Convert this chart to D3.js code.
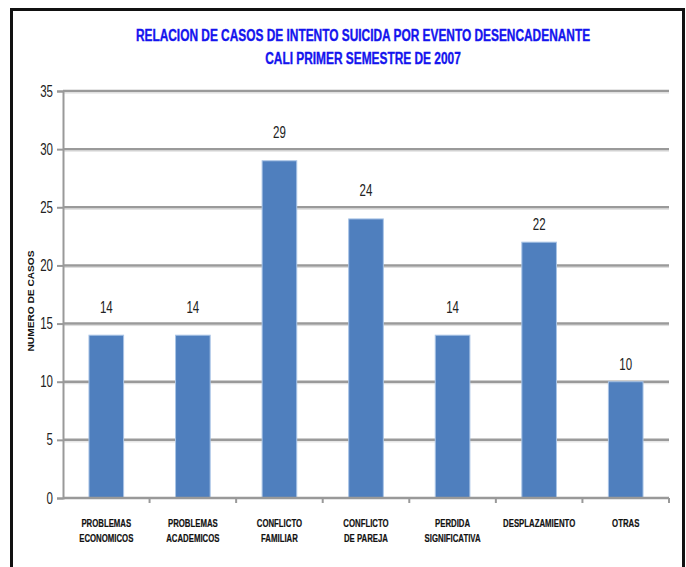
<!DOCTYPE html>
<html>
<head>
<meta charset="utf-8">
<script src="https://cdn.jsdelivr.net/npm/d3@7"></script>
<style>
  html, body { margin: 0; padding: 0; background: #fff; }
  svg { display: block; }
  text { font-family: "Liberation Sans", Arial, sans-serif; }
</style>
</head>
<body>
<svg id="chart" width="686" height="567"></svg>
<script>
const titleLines = ["RELACION DE CASOS DE INTENTO SUICIDA POR EVENTO DESENCADENANTE", "CALI PRIMER SEMESTRE DE 2007"];
const yAxisTitle = "NUMERO DE CASOS";
const categories = [
  ["PROBLEMAS", "ECONOMICOS"],
  ["PROBLEMAS", "ACADEMICOS"],
  ["CONFLICTO", "FAMILIAR"],
  ["CONFLICTO", "DE PAREJA"],
  ["PERDIDA", "SIGNIFICATIVA"],
  ["DESPLAZAMIENTO"],
  ["OTRAS"]
];
const values = [14, 14, 29, 24, 14, 22, 10];
const yTicks = [0, 5, 10, 15, 20, 25, 30, 35];

const svg = d3.select("#chart");

// narrow text helper: horizontally condensed glyphs
function narrowText(parent, tx, ty, str, opts) {
  const g = parent.append("g").attr("transform", `translate(${tx},${ty})`);
  return g.append("text")
    .attr("transform", `scale(${opts.sx || 0.8},1)`)
    .attr("text-anchor", opts.anchor || "middle")
    .attr("font-size", opts.size)
    .attr("font-weight", opts.weight || "normal")
    .attr("fill", opts.fill || "#222")
    .attr("stroke", opts.stroke || "none")
    .attr("stroke-width", opts.strokeWidth || 0)
    .text(str);
}

// frame
svg.append("path")
  .attr("d", "M11.5,570 V9.5 H683.5 V570")
  .attr("fill", "none").attr("stroke", "#111").attr("stroke-width", 3);

const x = d3.scaleBand().domain(d3.range(categories.length)).range([63, 669]).paddingInner(0.6).paddingOuter(0.3);
const y = d3.scaleLinear().domain([0, 35]).range([498, 91]);

// title
const title = svg.append("g");
titleLines.forEach((t, i) => {
  narrowText(title, 363, 41 + i * 23, t, {size: 17, weight: "bold", fill: "#1414ee", sx: 0.70, stroke: "#1414ee", strokeWidth: 0.4});
});

// gridlines
svg.append("g").selectAll("line").data(yTicks.filter(t => t > 0)).join("line")
  .attr("x1", 63).attr("x2", 669)
  .attr("y1", d => y(d)).attr("y2", d => y(d))
  .attr("stroke", "#9a9a9a").attr("stroke-width", 2.5);
svg.append("g").selectAll("line").data(yTicks.filter(t => t > 0)).join("line")
  .attr("x1", 63).attr("x2", 669)
  .attr("y1", d => y(d) + 2).attr("y2", d => y(d) + 2)
  .attr("stroke", "#dcdcdc").attr("stroke-width", 1);

// y axis
const yAxis = svg.append("g").attr("transform", "translate(63,0)")
  .call(d3.axisLeft(y).tickValues(yTicks).tickSize(6).tickPadding(5));
yAxis.select(".domain").attr("stroke", "#999").attr("stroke-width", 2);
yAxis.selectAll(".tick line").attr("stroke", "#999").attr("stroke-width", 2);
yAxis.selectAll(".tick text").remove();
const yLab = svg.append("g");
yTicks.forEach(t => narrowText(yLab, 53, y(t) + 5.5, t, {size: 16, anchor: "end", sx: 0.72}));

// bars
svg.append("g").selectAll("rect").data(values).join("rect")
  .attr("x", (d, i) => x(i)).attr("width", x.bandwidth())
  .attr("y", d => y(d)).attr("height", d => y(0) - y(d))
  .attr("fill", "#4f7fbe").attr("stroke", "#a9c4e6").attr("stroke-width", 1);

// x axis
const xAxis = svg.append("g").attr("transform", "translate(0,498)");
xAxis.append("line").attr("x1", 63).attr("x2", 669).attr("y1", 0).attr("y2", 0)
  .attr("stroke", "#999").attr("stroke-width", 2.5);
xAxis.selectAll("line.t").data(d3.range(1, categories.length + 1)).join("line").attr("class", "t")
  .attr("x1", i => x(i - 1) + x.bandwidth() / 2 + x.step() / 2)
  .attr("x2", i => x(i - 1) + x.bandwidth() / 2 + x.step() / 2)
  .attr("y1", 0).attr("y2", 5)
  .attr("stroke", "#999").attr("stroke-width", 2);

// category labels
const cat = svg.append("g");
categories.forEach((lines, i) => {
  lines.forEach((l, j) => {
    narrowText(cat, x(i) + x.bandwidth() / 2, 527 + j * 15, l, {size: 10, weight: "bold", fill: "#111", sx: 0.78, stroke: "#111", strokeWidth: 0.2});
  });
});

// value labels (lifted above a gridline if they would overlap it)
function labelBase(v) {
  let b = y(v) - 12;
  yTicks.forEach(t => {
    const g = y(t);
    if (t > 0 && g > b - 12 && g < b + 3) b = g - 11;
  });
  return b;
}
const vl = svg.append("g");
values.forEach((v, i) => narrowText(vl, x(i) + x.bandwidth() / 2, labelBase(v), v, {size: 16, sx: 0.72}));

// y axis title
svg.append("text")
  .attr("transform", "translate(34,301) rotate(-90)")
  .attr("text-anchor", "middle")
  .attr("font-size", 9.5).attr("font-weight", "bold").attr("fill", "#111")
  .attr("textLength", 101).attr("lengthAdjust", "spacingAndGlyphs")
  .text(yAxisTitle);
</script>
</body>
</html>
